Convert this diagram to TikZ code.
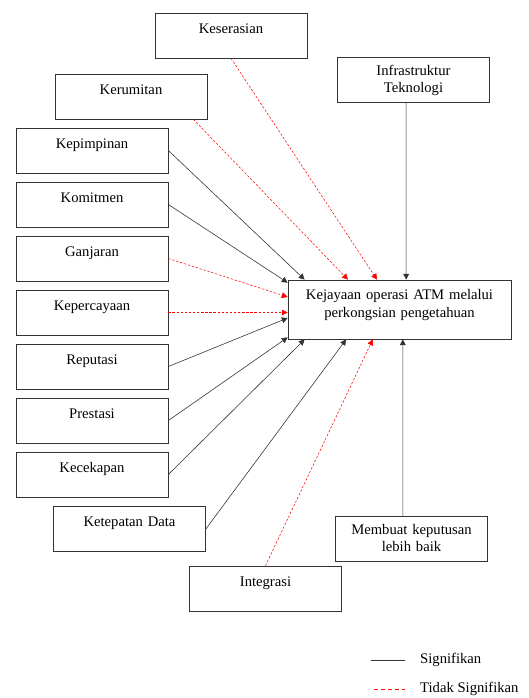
\documentclass[tikz,border=0pt]{standalone}
\usepackage{fontspec}
\setmainfont{Liberation Serif}
\usetikzlibrary{positioning,arrows.meta}

\tikzset{
  factor/.style={draw=black!80, line width=0.6pt, text width=4.56cm, align=center,
    inner sep=0pt, text height=0.6cm, text depth=0.75cm},
  factortwo/.style={factor, text height=0.53cm, text depth=0.82cm},
  outcome/.style={factor, text width=6.69cm, text height=0.585cm, text depth=1.185cm},
  sig/.style={draw=black!80, line width=0.5pt, -{Triangle[length=5pt,width=5pt]}},
  notsig/.style={draw=red, line width=0.45pt, dash pattern=on 2pt off 1.5pt,
    -{Triangle[length=5pt,width=5pt]}}
}

\begin{document}
\begin{tikzpicture}[x=0.03cm, y=-0.03cm, node distance=1.62cm, on grid,
  every node/.style={font=\fontsize{12.5}{15}\selectfont}]
   \useasboundingbox (0,0) rectangle (528,698);
   \node[factor] (keserasian) at (231,35.5) {Keserasian};
   \node[factortwo] (infra) at (413.5,80) {Infrastruktur\\Teknologi};
   \node[factor] (kerumitan) at (131,96.5) {Kerumitan};
   \node[factor] (kepimpinan) at (92,150.5) {Kepimpinan};
   \node[factor] (komitmen) [below=of kepimpinan] {Komitmen};
   \node[factor] (ganjaran) [below=of komitmen] {Ganjaran};
   \node[factor] (kepercayaan) [below=of ganjaran] {Kepercayaan};
   \node[factor] (reputasi) [below=of kepercayaan] {Reputasi};
   \node[factor] (prestasi) [below=of reputasi] {Prestasi};
   \node[factor] (kecekapan) [below=of prestasi] {Kecekapan};
   \node[factor] (ketepatan) at (129.5,529) {Ketepatan Data};
   \node[factor] (integrasi) at (265.5,588.5) {Integrasi};
   \node[factortwo] (keputusan) at (411.5,539) {Membuat keputusan\\lebih baik};
   \node[outcome] (kejayaan) at (399.5,309.5) {Kejayaan operasi ATM melalui\\perkongsian pengetahuan};
    \path
    (keserasian.south) edge[notsig] ([xshift=-0.675cm]kejayaan.north)
    ([xshift=-0.42cm]kerumitan.south east) edge[notsig] ([xshift=-1.545cm]kejayaan.north)
    (kepimpinan.east) edge[sig] ([xshift=0.51cm]kejayaan.north west)
    (komitmen.east) edge[sig] ([yshift=-0.09cm]kejayaan.north west)
    (ganjaran.east) edge[notsig] ([yshift=0.375cm]kejayaan.west)
    (kepercayaan.east) edge[notsig] (kepercayaan.east -| kejayaan.west)
    (reputasi.east) edge[sig] ([yshift=-0.255cm]kejayaan.west)
    (prestasi.east) edge[sig] ([yshift=0.06cm]kejayaan.south west)
    (kecekapan.east) edge[sig] ([xshift=0.51cm]kejayaan.south west)
    (ketepatan.east) edge[sig] ([xshift=-1.6cm]kejayaan.south)
    (integrasi.north) edge[notsig] ([xshift=-0.8cm]kejayaan.south)
    ([xshift=-0.26cm]keputusan.north) edge[sig] ([xshift=0.1cm]kejayaan.south)
    ([xshift=-0.22cm]infra.south) edge[sig] ([xshift=0.2cm]kejayaan.north);
   % legend
   \coordinate (sigA) at (371,660);
   \coordinate (sigB) at (405,660);
   \coordinate (tidakA) at (374,689);
   \coordinate (tidakB) at (405,689);
   \node[anchor=west, inner sep=0pt] (sigtext) at (420,660) {Signifikan};
   \node[anchor=west, inner sep=0pt] (tidaktext) at (420,689) {Tidak Signifikan};
   \draw[draw=black!80, line width=0.6pt] (sigA) -- (sigB);
   \draw[draw=red, line width=0.6pt, dash pattern=on 3pt off 3pt] (tidakA) -- (tidakB);
\end{tikzpicture}
\end{document}
